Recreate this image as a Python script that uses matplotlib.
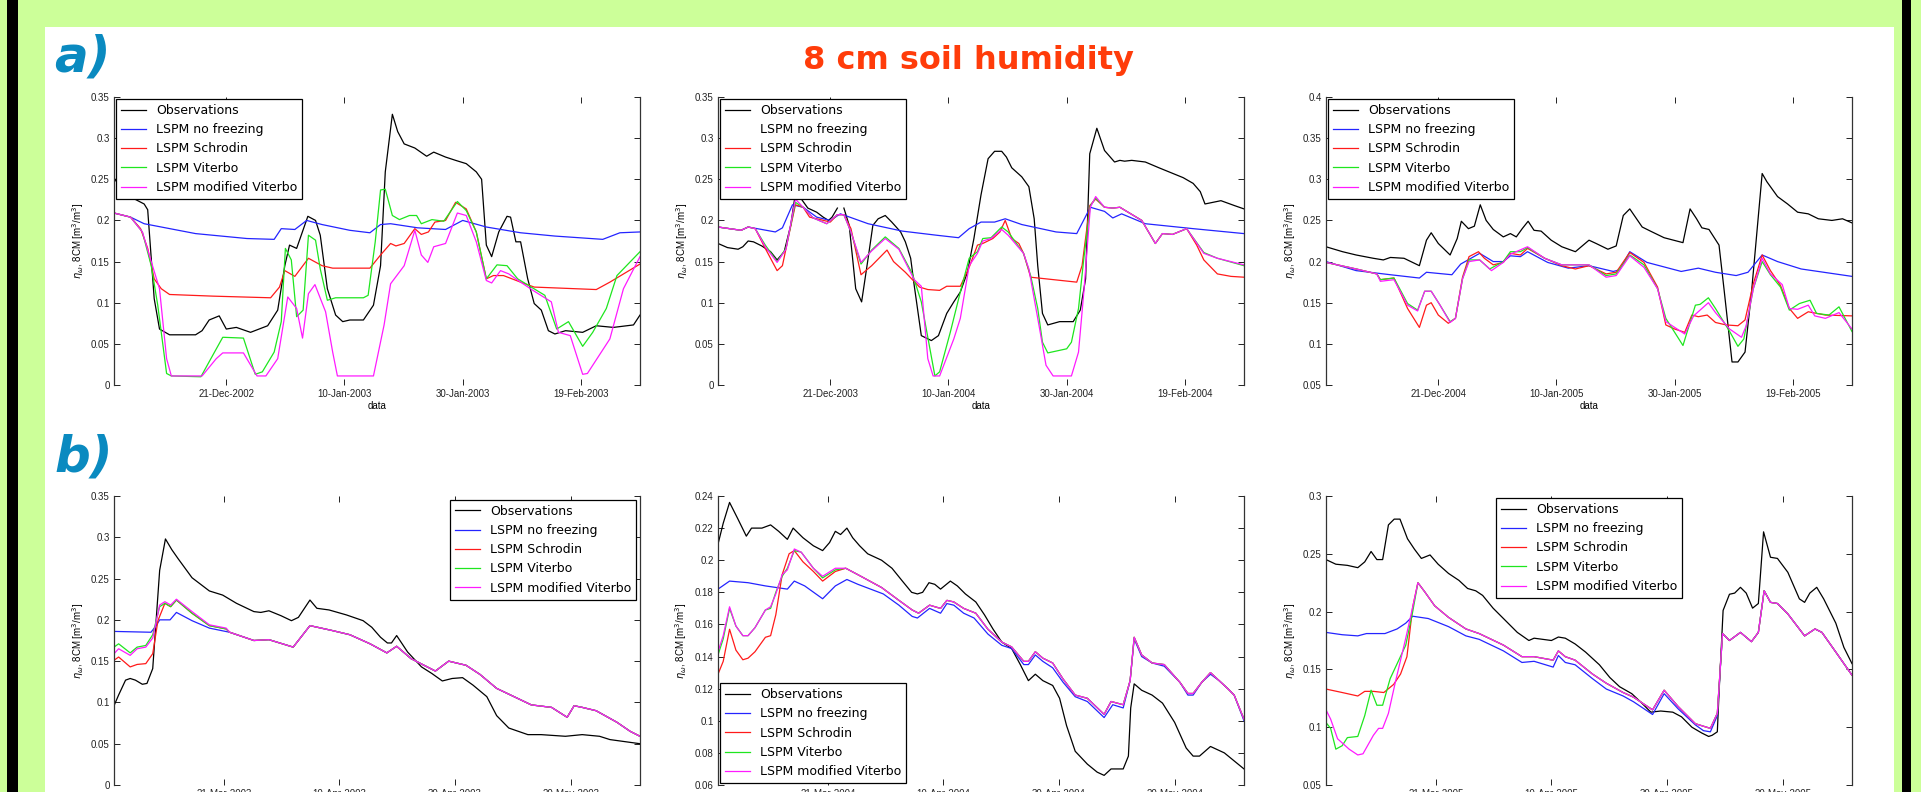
"""8 cm soil humidity: observations vs LSPM runs, winter (a) and spring (b) 2003-2005."""
import datetime as dt

import matplotlib
matplotlib.use("Agg")
import matplotlib.dates as mdates
import matplotlib.pyplot as plt
import numpy as np
from matplotlib.patches import Rectangle
from matplotlib.ticker import FuncFormatter, MultipleLocator

W, H = 1921, 792
nan = np.nan

SERIES = ["Observations", "LSPM no freezing", "LSPM Schrodin", "LSPM Viterbo",
          "LSPM modified Viterbo"]
COLORS = ["black", "#2424ff", "#ff1a1a", "#1ee61e", "#ff1aff"]

# ---- data: (day since panel start, soil moisture) ----
# a1: winter 2002/03, start 2-Dec-2002
A1_OBS = [(0, .252), (1.6, .233), (5.1, .220), (5.7, .213), (6.8, .105), (7.7, .068),
          (9.4, .061), (13.8, .061), (14.9, .066), (16.1, .079), (17.8, .084), (19.0, .068),
          (20.7, .070), (23.1, .064), (26.0, .072), (27.7, .091), (28.9, .145), (29.7, .170),
          (30.9, .166), (32.8, .205), (34.1, .200), (34.9, .182), (36.1, .117), (37.5, .085),
          (38.7, .077), (39.9, .079), (42.2, .079), (43.9, .097), (45.1, .145), (45.9, .259),
          (47.1, .329), (48.0, .308), (49.1, .293), (50.9, .288), (52.9, .278), (54.1, .283),
          (56.1, .277), (57.8, .273), (59.6, .269), (61.3, .259), (62.2, .250), (63.0, .170),
          (63.9, .156), (65.1, .186), (66.5, .205), (67.1, .204), (68.0, .174), (68.8, .174),
          (70.0, .129), (71.1, .099), (72.3, .091), (73.5, .066), (74.6, .062), (76.4, .066),
          (79.3, .064), (81.6, .072), (84.5, .070), (87.9, .073), (89.0, .085)]
A1_NOFR = [(0, .209), (2.8, .204), (5.1, .196), (8.0, .192), (13.8, .184), (22.5, .178),
           (27.1, .177), (28.3, .190), (30.6, .189), (32.6, .200), (35.2, .195), (39.9, .188),
           (43.3, .185), (45.1, .195), (46.8, .196), (51.4, .191), (56.1, .189), (59.0, .200),
           (63.0, .192), (68.8, .185), (74.6, .181), (82.7, .177), (85.6, .185), (89.0, .186)]
A1_SCHR = [(0, .209), (2.8, .204), (4.5, .190), (5.7, .166), (6.8, .129), (8.0, .117),
           (9.4, .110), (16.7, .108), (26.5, .106), (28.0, .119), (28.9, .139), (30.6, .132),
           (32.9, .154), (35.2, .145), (37.0, .142), (43.3, .142), (45.1, .158), (46.8, .172),
           (47.7, .169), (49.1, .172), (50.9, .190), (52.0, .183), (53.2, .186), (54.3, .198),
           (56.1, .200), (57.8, .222), (59.6, .214), (61.3, .186), (63.0, .129), (64.2, .133),
           (65.9, .133), (68.8, .125), (71.1, .119), (74.6, .118), (81.6, .116), (83.9, .125),
           (89.0, .147)]
A1_VIT = [(0, .209), (2.8, .204), (4.8, .186), (6.3, .145), (7.4, .097), (8.9, .014),
          (9.7, .011), (14.7, .010), (16.7, .036), (18.4, .058), (21.9, .057), (23.9, .013),
          (25.1, .016), (27.1, .040), (28.3, .077), (29.0, .166), (30.0, .152), (30.9, .083),
          (32.0, .091), (32.9, .182), (34.1, .176), (34.9, .141), (36.1, .103), (37.5, .106),
          (42.2, .106), (43.0, .109), (44.2, .174), (45.1, .237), (45.9, .238), (47.1, .206),
          (48.3, .201), (50.0, .206), (51.2, .206), (52.0, .196), (53.8, .201), (55.8, .199),
          (58.1, .223), (59.6, .212), (61.3, .186), (63.0, .129), (64.8, .146), (66.5, .145),
          (68.3, .129), (70.6, .119), (72.9, .109), (74.9, .068), (76.9, .077), (79.3, .047),
          (81.0, .064), (83.3, .093), (85.1, .133), (89.0, .162)]
A1_MVIT = [(0, .209), (2.8, .204), (4.8, .186), (6.3, .150), (7.7, .117), (8.9, .032),
           (9.7, .011), (14.9, .011), (17.3, .032), (18.4, .039), (21.9, .039), (24.2, .011),
           (25.7, .011), (27.7, .032), (29.4, .107), (30.9, .093), (31.9, .057), (32.9, .111),
           (34.0, .122), (35.8, .089), (37.0, .040), (37.8, .011), (43.9, .011), (45.7, .073),
           (46.8, .123), (49.1, .145), (50.9, .188), (52.0, .158), (53.1, .149), (54.1, .168),
           (56.1, .172), (58.1, .209), (59.6, .206), (61.3, .174), (63.0, .127), (63.9, .124),
           (65.4, .139), (66.8, .135), (68.8, .125), (71.1, .114), (74.0, .101), (75.2, .064),
           (77.2, .060), (79.3, .013), (80.1, .014), (83.9, .056), (86.2, .117), (89.0, .156)]

# a2: winter 2003/04, start 2-Dec-2003
A2_OBS = [(0, .172), (1.6, .167), (3.4, .165), (4.2, .168), (5.1, .175), (6.0, .174),
          (7.4, .169), (8.9, .162), (10.0, .152), (11.2, .162), (12.3, .194), (13.1, .233),
          (14.1, .226), (15.2, .215), (16.7, .210), (17.8, .204), (18.7, .200), (19.3, .204),
          (20.2, .215), (20.7, nan), (21.3, .215), (22.2, .194), (23.3, .117), (24.3, .101),
          (25.4, .154), (26.2, .194), (27.1, .202), (28.3, .206), (29.4, .198), (30.9, .186),
          (31.7, .174), (32.6, .154), (33.2, .121), (34.4, .060), (36.1, .054), (37.3, .060),
          (38.7, .087), (39.9, .101), (41.0, .113), (42.2, .137), (43.3, .178), (44.5, .231),
          (45.7, .275), (46.8, .284), (48.0, .284), (48.8, .277), (49.7, .264), (51.4, .253),
          (52.6, .241), (53.5, .202), (54.1, .145), (54.9, .087), (55.8, .073), (57.8, .077),
          (60.1, .077), (61.3, .091), (62.2, .129), (62.9, .281), (64.1, .312), (65.4, .285),
          (67.1, .271), (68.0, .273), (68.8, .272), (70.0, .273), (72.3, .271), (74.6, .264),
          (78.7, .252), (80.4, .245), (81.6, .235), (82.4, .220), (85.1, .224), (87.4, .218),
          (89.0, .214)]
A2_NOFR = [(0, .192), (3.9, .188), (5.1, .192), (9.7, .186), (10.9, .191), (12.6, .219),
           (14.4, .216), (16.7, .204), (19.0, .200), (20.7, .208), (21.9, .205), (25.4, .196),
           (31.2, .187), (37.0, .182), (40.7, .179), (42.5, .190), (44.5, .198), (46.8, .198),
           (48.6, .202), (51.4, .195), (57.2, .186), (60.7, .184), (63.0, .216), (65.4, .211),
           (66.8, .203), (68.3, .208), (72.3, .196), (80.4, .190), (89.0, .184)]
A2_SCHR = [(0, .192), (3.9, .188), (5.1, .192), (6.3, .190), (8.0, .166), (10.0, .139),
           (10.9, .145), (12.1, .186), (13.1, .219), (14.4, .216), (15.5, .204), (17.3, .201),
           (19.0, .198), (20.2, .207), (21.3, .207), (22.5, .190), (24.2, .134), (26.0, .145),
           (28.6, .164), (29.7, .150), (31.7, .137), (34.1, .119), (35.5, .116), (37.5, .115),
           (38.7, .120), (41.0, .120), (42.5, .143), (43.9, .170), (44.8, .172), (46.5, .178),
           (47.7, .186), (48.6, .200), (49.7, .178), (50.9, .172), (51.7, .160), (52.9, .131),
           (55.5, .129), (60.7, .125), (61.6, .145), (62.9, .218), (63.9, .226), (65.4, .216),
           (66.8, .215), (68.0, .216), (71.7, .200), (74.0, .172), (75.2, .184), (76.9, .183),
           (79.3, .190), (81.0, .170), (82.2, .152), (84.5, .135), (86.8, .132), (89.0, .131)]
A2_VIT = [(0, .192), (3.9, .188), (5.1, .192), (6.3, .190), (8.0, .170), (10.0, .150),
          (11.5, .166), (13.1, .222), (14.4, .216), (16.1, .203), (18.4, .196), (20.2, .207),
          (21.3, .207), (22.5, .186), (24.2, .147), (26.0, .164), (28.3, .180), (30.6, .166),
          (32.9, .135), (34.4, .101), (36.7, .011), (37.5, .016), (39.3, .064), (41.0, .113),
          (42.5, .154), (43.9, .162), (44.8, .178), (46.2, .179), (48.0, .192), (49.1, .186),
          (50.3, .174), (51.7, .160), (52.9, .133), (54.1, .093), (54.9, .052), (55.8, .039),
          (59.0, .044), (59.8, .052), (61.0, .093), (61.9, .154), (63.0, .218), (63.9, .227),
          (65.4, .216), (66.8, .215), (68.0, .216), (71.7, .200), (74.0, .172), (75.2, .184),
          (76.9, .183), (79.3, .190), (82.2, .161), (84.5, .154), (89.0, .145)]
A2_MVIT = [(0, .192), (3.9, .188), (5.1, .192), (6.3, .190), (8.0, .168), (10.0, .149),
           (11.5, .165), (13.1, .226), (14.4, .216), (16.1, .203), (18.4, .196), (20.2, .207),
           (21.3, .207), (22.5, .186), (24.2, .149), (26.0, .163), (28.3, .178), (30.6, .165),
           (33.2, .128), (34.4, .120), (35.5, .032), (36.4, .011), (37.5, .011), (39.9, .056),
           (41.0, .081), (42.5, .145), (43.9, .160), (44.8, .175), (46.2, .178), (48.0, .189),
           (49.1, .182), (51.7, .160), (52.6, .141), (54.3, .073), (55.5, .024), (56.7, .011),
           (59.8, .011), (61.0, .040), (61.9, .113), (63.0, .216), (63.9, .229), (65.4, .216),
           (66.8, .215), (68.0, .216), (71.7, .200), (74.0, .172), (75.2, .184), (76.9, .183),
           (79.3, .190), (82.2, .160), (84.5, .154), (89.0, .146)]

# a3: winter 2004/05, start 2-Dec-2004
A3_OBS = [(0, .218), (2.8, .212), (5.1, .208), (8.0, .204), (9.7, .202), (10.9, .205),
          (13.2, .204), (15.8, .195), (17.0, .226), (17.8, .235), (19.0, .222), (21.0, .208),
          (22.2, .228), (22.9, .249), (24.1, .240), (25.1, .243), (26.1, .269), (27.1, .250),
          (28.3, .239), (30.0, .230), (31.2, .234), (32.2, .230), (33.2, .240), (34.2, .249),
          (35.2, .238), (36.4, .237), (38.1, .226), (39.9, .218), (42.2, .212), (44.5, .226),
          (45.7, .222), (47.7, .215), (49.1, .219), (50.3, .256), (51.4, .264), (53.5, .242),
          (54.9, .237), (57.2, .229), (60.4, .223), (61.6, .264), (62.7, .252), (63.6, .241),
          (64.8, .239), (66.5, .220), (67.4, .163), (68.7, .078), (69.7, .078), (70.9, .090),
          (72.0, .163), (73.8, .307), (74.6, .297), (76.4, .279), (78.1, .270), (79.8, .260),
          (81.6, .258), (83.3, .252), (85.6, .250), (87.4, .252), (89.0, .247)]
A3_NOFR = [(0, .200), (5.1, .189), (10.9, .184), (15.8, .180), (17.0, .187), (21.3, .184),
           (22.8, .197), (26.0, .210), (28.3, .200), (30.0, .200), (31.2, .207), (32.9, .206),
           (34.1, .212), (37.5, .199), (41.0, .192), (44.5, .195), (48.6, .188), (49.7, .190),
           (51.4, .212), (54.3, .199), (60.1, .188), (63.0, .192), (65.9, .187), (69.4, .183),
           (71.4, .187), (73.8, .208), (76.4, .200), (80.4, .191), (89.0, .182)]
A3_SCHR = [(0, .199), (5.1, .191), (8.6, .185), (9.2, .178), (11.5, .180), (13.8, .143),
           (15.8, .120), (17.0, .147), (17.8, .150), (19.0, .135), (20.7, .125), (21.9, .131),
           (23.1, .181), (24.2, .206), (25.8, .212), (26.8, .204), (28.3, .196), (30.0, .199),
           (31.2, .210), (32.9, .208), (34.1, .216), (37.0, .204), (39.9, .195), (42.2, .191),
           (44.5, .195), (47.4, .185), (49.1, .187), (51.4, .211), (53.8, .199), (56.1, .169),
           (57.5, .123), (59.0, .118), (60.7, .114), (61.9, .135), (63.0, .133), (64.5, .135),
           (65.9, .126), (67.7, .123), (69.7, .122), (70.9, .129), (72.3, .173), (73.8, .208),
           (75.2, .189), (76.9, .171), (78.4, .143), (79.8, .131), (81.6, .139), (84.5, .135),
           (89.0, .134)]
A3_VIT = [(0, .199), (5.1, .191), (8.6, .185), (9.2, .178), (11.5, .180), (13.8, .149),
          (15.5, .141), (16.7, .164), (17.8, .164), (19.3, .147), (21.0, .127), (21.9, .131),
          (23.1, .179), (24.2, .202), (26.0, .202), (27.7, .191), (30.0, .200), (31.2, .212),
          (32.9, .212), (34.1, .217), (37.0, .204), (39.9, .196), (44.5, .196), (47.4, .183),
          (49.1, .185), (51.4, .208), (53.8, .196), (56.1, .167), (57.5, .131), (60.4, .098),
          (62.5, .147), (63.3, .148), (64.7, .156), (65.9, .143), (68.3, .115), (69.7, .097),
          (70.7, .106), (72.3, .167), (73.8, .200), (75.2, .184), (76.9, .169), (78.4, .141),
          (80.1, .149), (81.9, .153), (83.0, .137), (85.1, .135), (86.8, .145), (89.0, .115)]
A3_MVIT = [(0, .199), (5.1, .191), (8.6, .185), (9.2, .176), (11.5, .178), (13.8, .147),
           (15.5, .140), (16.7, .164), (17.8, .164), (19.3, .147), (21.0, .126), (21.9, .131),
           (23.1, .179), (24.2, .200), (26.0, .202), (28.0, .189), (30.0, .199), (31.2, .209),
           (34.1, .218), (37.0, .204), (39.9, .196), (44.5, .196), (47.4, .181), (49.1, .183),
           (51.4, .207), (53.8, .193), (56.1, .167), (57.5, .127), (60.7, .112), (62.2, .134),
           (64.7, .150), (65.9, .138), (68.3, .118), (70.3, .108), (71.1, .122), (72.3, .167),
           (73.8, .204), (75.2, .185), (77.2, .172), (78.4, .143), (79.8, .142), (81.6, .147),
           (82.7, .134), (84.5, .131), (86.8, .138), (89.0, .118)]

# b1: spring 2003, start 2-Mar-2003
B1_OBS = [(0, .096), (0.8, .109), (2.0, .127), (2.8, .129), (3.7, .127), (4.9, .122),
          (5.7, .123), (6.7, .141), (7.9, .260), (8.9, .298), (10.0, .285), (11.1, .274),
          (13.5, .251), (16.5, .235), (18.8, .230), (21.2, .220), (24.2, .210), (25.4, .209),
          (26.8, .211), (28.9, .205), (30.7, .199), (31.9, .203), (33.9, .224), (35.1, .214),
          (37.2, .212), (40.2, .206), (43.1, .199), (44.6, .191), (46.1, .179), (47.3, .172),
          (48.0, .172), (48.9, .181), (50.8, .161), (53.2, .143), (55.0, .135), (56.8, .126),
          (58.5, .129), (60.3, .130), (62.1, .121), (64.5, .107), (66.2, .084), (68.3, .069),
          (71.6, .061), (73.9, .061), (78.1, .059), (81.0, .061), (84.0, .059), (85.8, .055),
          (91.0, .050)]
B1_MODEL_TAIL = [(20.0, .185), (24.2, .175), (26.8, .176), (31.0, .167), (33.9, .193),
                 (37.8, .187), (40.8, .182), (44.3, .171), (47.2, .160), (48.9, .168),
                 (51.4, .153), (55.6, .138), (57.9, .150), (60.9, .145), (63.3, .134),
                 (66.2, .117), (69.2, .107), (72.2, .097), (75.7, .094), (78.4, .082),
                 (79.6, .096), (81.0, .094), (83.4, .090), (87.0, .076), (89.3, .065),
                 (91.0, .059)]
B1_NOFR_HEAD = [(0, .186), (6.4, .185), (7.3, .193), (7.9, .200), (9.7, .200), (10.8, .209),
                (13.5, .199), (16.5, .190)]
B1_SCHR_HEAD = [(0, .151), (0.8, .155), (2.8, .143), (4.0, .146), (5.5, .147), (6.7, .159),
                (7.6, .199), (8.8, .220), (9.8, .216), (10.8, .224), (13.5, .208), (16.5, .193),
                (19.4, .189)]
B1_VIT_HEAD = [(0, .167), (0.8, .171), (2.8, .160), (4.0, .167), (5.5, .169), (6.7, .182),
               (7.9, .216), (8.8, .220), (9.8, .216), (10.8, .224), (13.5, .208), (16.5, .193),
               (19.4, .189)]
B1_MVIT_HEAD = [(0, .159), (0.8, .165), (2.8, .157), (4.0, .165), (5.5, .167), (6.7, .178),
                (7.9, .218), (8.8, .222), (9.8, .218), (10.8, .225), (13.5, .210), (16.5, .194),
                (19.4, .190)]

# b2: spring 2004, start 2-Mar-2004
B2_OBS = [(0, .210), (0.9, .223), (2.0, .236), (3.4, .226), (4.9, .215), (5.8, .220),
          (7.6, .220), (9.1, .222), (10.5, .218), (12.0, .213), (13.0, .220), (14.7, .214),
          (16.5, .209), (18.1, .206), (19.3, .211), (20.3, .218), (21.2, .216), (22.3, .220),
          (23.3, .214), (24.5, .209), (25.9, .204), (28.3, .200), (30.1, .195), (31.9, .187),
          (33.5, .180), (34.5, .179), (35.4, .180), (36.5, .186), (37.5, .185), (38.5, .182),
          (40.2, .187), (41.4, .184), (42.8, .179), (44.6, .174), (46.1, .166), (47.6, .157),
          (49.1, .149), (50.8, .145), (52.3, .135), (53.7, .125), (54.9, .129), (56.2, .125),
          (57.9, .122), (59.1, .114), (60.3, .097), (61.8, .081), (63.9, .073), (65.6, .068),
          (66.8, .066), (68.0, .070), (70.1, .070), (71.0, .078), (71.4, .108), (72.0, .123),
          (73.3, .119), (75.1, .116), (76.9, .111), (79.0, .099), (81.0, .083), (82.2, .078),
          (83.3, .078), (85.2, .084), (87.6, .080), (89.3, .075), (91.0, .070)]
B2_NOFR = [(0, .182), (2.0, .187), (5.2, .186), (8.2, .184), (12.0, .182), (13.2, .187),
           (15.0, .184), (18.1, .176), (20.3, .184), (22.3, .188), (24.2, .185), (28.6, .179),
           (31.3, .172), (33.6, .165), (34.5, .164), (36.6, .170), (38.5, .167), (39.6, .173),
           (40.8, .172), (42.5, .167), (44.3, .164), (46.7, .154), (49.1, .147), (50.8, .145),
           (52.9, .135), (53.7, .135), (54.9, .141), (56.2, .137), (57.9, .133), (59.7, .124),
           (61.8, .115), (63.9, .112), (66.8, .102), (68.3, .110), (70.1, .108), (71.3, .125),
           (72.0, .151), (73.3, .140), (75.1, .136), (77.2, .134), (79.9, .124), (81.3, .116),
           (82.2, .116), (83.7, .124), (85.2, .129), (86.7, .125), (88.2, .120), (89.3, .116),
           (91.0, .100)]
B2_MODEL_TAIL = [(22.1, .195), (24.2, .191), (28.3, .183), (31.3, .175), (33.6, .169),
                 (34.7, .167), (36.6, .172), (38.5, .170), (39.6, .175), (40.8, .174),
                 (42.5, .170), (44.6, .167), (46.7, .157), (49.1, .149), (50.8, .146),
                 (52.9, .137), (53.7, .137), (54.9, .143), (56.2, .139), (57.9, .136),
                 (59.7, .126), (61.8, .116), (63.9, .114), (66.8, .104), (68.0, .112),
                 (70.1, .110), (71.3, .125), (72.0, .152), (73.3, .141), (75.1, .136),
                 (77.2, .135), (79.9, .124), (81.3, .117), (82.2, .117), (83.7, .124),
                 (85.2, .130), (86.7, .125), (88.2, .120), (89.3, .116), (91.0, .101)]
B2_SCHR_HEAD = [(0, .129), (0.9, .137), (2.0, .157), (3.1, .144), (4.3, .138), (5.2, .139),
                (6.4, .143), (8.2, .152), (9.1, .153), (10.0, .166), (11.1, .191), (12.3, .204),
                (13.2, .206), (14.7, .199), (16.5, .193), (18.1, .187), (20.3, .193)]
B2_VIT_HEAD = [(0, .141), (0.9, .151), (2.0, .170), (3.1, .159), (4.3, .153), (5.2, .153),
               (6.4, .158), (8.2, .169), (9.1, .170), (10.0, .180), (11.1, .190), (12.0, .195),
               (13.2, .206), (14.4, .205), (16.5, .195), (18.1, .189), (20.3, .194)]
B2_MVIT_HEAD = [(0, .143), (0.9, .153), (2.0, .171), (3.1, .159), (4.3, .153), (5.2, .153),
                (6.4, .158), (8.2, .169), (9.1, .171), (10.0, .179), (11.1, .191), (12.0, .194),
                (13.2, .207), (14.4, .205), (16.5, .195), (18.1, .190), (20.3, .195)]

# b3: spring 2005, start 2-Mar-2005
B3_OBS = [(0, .245), (1.7, .241), (3.7, .240), (5.5, .238), (6.7, .243), (7.8, .252),
          (8.8, .245), (9.8, .245), (10.8, .275), (11.8, .280), (12.8, .280), (14.1, .263),
          (15.3, .254), (16.5, .246), (18.0, .249), (19.4, .241), (21.2, .233), (23.0, .227),
          (24.5, .220), (25.9, .218), (27.1, .214), (28.9, .203), (31.3, .191), (33.1, .182),
          (35.1, .175), (36.0, .177), (39.0, .175), (40.2, .178), (41.4, .177), (43.1, .172),
          (44.9, .165), (47.3, .154), (49.1, .143), (50.8, .135), (52.9, .129), (54.4, .122),
          (56.2, .113), (57.9, .114), (60.0, .113), (61.5, .109), (63.3, .100), (65.0, .095),
          (66.2, .092), (66.8, .093), (67.7, .096), (68.0, .130), (68.7, .201), (69.8, .215),
          (70.7, .216), (71.7, .221), (72.7, .216), (73.8, .203), (74.8, .207), (75.7, .269),
          (76.9, .247), (78.1, .246), (79.9, .234), (81.9, .211), (82.8, .208), (83.7, .216),
          (84.9, .221), (86.1, .211), (88.2, .190), (89.6, .169), (91.0, .155)]
B3_MODEL_TAIL = [(68.6, .181), (69.8, .175), (71.7, .182), (73.6, .174), (74.8, .182),
                 (75.8, .218), (76.9, .208), (78.1, .207), (79.9, .198), (82.8, .179),
                 (84.6, .185), (85.8, .182), (88.2, .165), (91.0, .145)]
B3_NOFR_HEAD = [(0, .182), (2.8, .180), (5.5, .179), (7.0, .181), (10.2, .181), (12.3, .185),
                (13.8, .190), (15.0, .196), (17.7, .194), (21.2, .187), (24.2, .179),
                (26.5, .176), (30.7, .166), (33.9, .156), (36.0, .157), (39.3, .152),
                (40.2, .162), (41.4, .156), (43.1, .154), (46.1, .142), (48.5, .133),
                (51.4, .127), (53.2, .122), (56.5, .111), (58.5, .129), (60.9, .116),
                (63.9, .102), (65.3, .097), (66.5, .096), (67.7, .110)]
B3_FROZEN_MID = [(15.9, .225), (17.1, .217), (18.8, .205), (21.2, .195), (24.2, .185),
                 (26.5, .181), (30.7, .171), (33.9, .161), (36.0, .161), (39.3, .158),
                 (40.2, .166), (41.4, .161), (43.1, .158), (46.1, .146), (48.5, .138),
                 (51.4, .130), (53.2, .126), (56.5, .115), (58.5, .132), (60.9, .118),
                 (63.9, .103), (66.5, .099), (67.7, .112)]
B3_SCHR_HEAD = [(0, .133), (2.8, .130), (5.5, .127), (6.7, .131), (8.2, .131), (10.0, .130),
                (11.7, .137), (12.9, .146), (14.0, .161), (15.0, .204)]
B3_VIT_HEAD = [(0, .104), (0.8, .099), (1.7, .081), (2.8, .084), (3.7, .091), (5.5, .092),
               (6.7, .110), (7.8, .132), (8.8, .119), (9.8, .119), (11.1, .142), (13.8, .171),
               (15.0, .200)]
B3_MVIT_HEAD = [(0, .115), (0.8, .107), (2.0, .090), (4.0, .081), (5.5, .076), (6.4, .077),
                (8.2, .093), (9.1, .099), (9.8, .099), (10.8, .112), (12.0, .139), (13.8, .177),
                (15.0, .204)]

WINTER_TICKS = [(12, 21, 0), (1, 10, 1), (1, 30, 1), (2, 19, 1)]   # (month, day, year offset)
SPRING_TICKS = [(3, 21, 0), (4, 10, 0), (4, 30, 0), (5, 20, 0)]


def px_box(x0, y0, x1, y1):
    """Pixel box (top-left origin) -> figure fraction [left, bottom, w, h]."""
    return [x0 / W, 1 - y1 / H, (x1 - x0) / W, (y1 - y0) / H]


def yfmt(v, _):
    return f"{round(v, 4):g}"


def draw(ax, start, span, series, ylim, ystep, ticks, xlabel, legend_kw, blank_handle=None):
    t0 = mdates.date2num(start)
    for name, color, pts in zip(SERIES, COLORS, series):
        d = np.array([p[0] for p in pts], dtype=float)
        v = np.array([p[1] for p in pts], dtype=float)
        ax.plot(t0 + d, v, color=color, lw=0.9, label=name)
    ax.set_xlim(t0, t0 + span)
    ax.set_ylim(*ylim)
    ax.yaxis.set_major_locator(MultipleLocator(ystep))
    ax.yaxis.set_major_formatter(FuncFormatter(yfmt))
    ax.set_xticks([mdates.date2num(dt.date(start.year + yo, m, dd)) for m, dd, yo in ticks])
    ax.xaxis.set_major_formatter(mdates.DateFormatter("%d-%b-%Y"))
    ax.tick_params(direction="in", top=True, right=True, length=4, width=0.7,
                   labelsize=7, pad=3, colors="#222222")
    for lab in ax.get_xticklabels() + ax.get_yticklabels():
        lab.set_family("Liberation Sans")
    for side in ("top", "bottom"):
        ax.spines[side].set_visible(False)
    for side in ("left", "right"):
        ax.spines[side].set_color("#333333")
        ax.spines[side].set_linewidth(0.9)
    ax.set_ylabel(r"$\eta_\omega$, 8CM [m$^3$/m$^3$]", fontsize=7, family="Liberation Sans",
                  labelpad=4)
    if xlabel:
        ax.set_xlabel("data", fontsize=7, family="Liberation Sans", labelpad=1)
    opts = dict(fontsize=9, frameon=True, fancybox=False, edgecolor="black", framealpha=1,
                handlelength=2.0, handletextpad=0.8, labelspacing=0.5, borderpad=0.4,
                borderaxespad=0.15)
    opts.update(legend_kw)
    leg = ax.legend(**opts)
    leg.get_frame().set_linewidth(0.9)
    if blank_handle is not None:
        leg.legend_handles[blank_handle].set_visible(False)


fig = plt.figure(figsize=(W / 100, H / 100), dpi=100, facecolor="#ccff99")
fig.add_artist(Rectangle((45 / W, 0), (1894 - 45) / W, 1 - 27 / H, transform=fig.transFigure,
                         facecolor="white", edgecolor="none", zorder=-10))
for x0, x1 in ((7, 18), (1902, 1911)):
    fig.add_artist(Rectangle((x0 / W, 0), (x1 - x0) / W, 1, transform=fig.transFigure,
                             facecolor="black", edgecolor="none", zorder=-9))

fig.text(968 / W, 1 - 60 / H, "8 cm soil humidity", ha="center", va="center",
         fontsize=23, fontweight="bold", color="#ff3c0a")
fig.text(82 / W, 1 - 58 / H, "a)", ha="center", va="center", fontsize=36,
         fontweight="bold", fontstyle="italic", color="#0a8ac0")
fig.text(84 / W, 1 - 457 / H, "b)", ha="center", va="center", fontsize=36,
         fontweight="bold", fontstyle="italic", color="#0a8ac0")

cols = [(114, 640), (718, 1244), (1326, 1852)]
top_row, bot_row = (97, 385), (496, 785)

winter = [
    (dt.date(2002, 12, 2), [A1_OBS, A1_NOFR, A1_SCHR, A1_VIT, A1_MVIT], (0, 0.35), 0.05, None),
    (dt.date(2003, 12, 2), [A2_OBS, A2_NOFR, A2_SCHR, A2_VIT, A2_MVIT], (0, 0.35), 0.05, 1),
    (dt.date(2004, 12, 2), [A3_OBS, A3_NOFR, A3_SCHR, A3_VIT, A3_MVIT], (0.05, 0.4), 0.05, None),
]
for (x0, x1), (start, ser, ylim, step, blank) in zip(cols, winter):
    ax = fig.add_axes(px_box(x0, top_row[0], x1, top_row[1]))
    ax.set_facecolor("none")
    draw(ax, start, 89, ser, ylim, step, WINTER_TICKS, True,
         dict(loc="upper left"), blank_handle=blank)

spring = [
    (dt.date(2003, 3, 2),
     [B1_OBS, B1_NOFR_HEAD + B1_MODEL_TAIL, B1_SCHR_HEAD + B1_MODEL_TAIL,
      B1_VIT_HEAD + B1_MODEL_TAIL, B1_MVIT_HEAD + B1_MODEL_TAIL],
     (0, 0.35), 0.05, dict(loc="upper right", borderaxespad=0.3)),
    (dt.date(2004, 3, 2),
     [B2_OBS, B2_NOFR, B2_SCHR_HEAD + B2_MODEL_TAIL, B2_VIT_HEAD + B2_MODEL_TAIL,
      B2_MVIT_HEAD + B2_MODEL_TAIL],
     (0.06, 0.24), 0.02, dict(loc="lower left")),
    (dt.date(2005, 3, 2),
     [B3_OBS, B3_NOFR_HEAD + B3_MODEL_TAIL, B3_SCHR_HEAD + B3_FROZEN_MID + B3_MODEL_TAIL,
      B3_VIT_HEAD + B3_FROZEN_MID + B3_MODEL_TAIL,
      B3_MVIT_HEAD + B3_FROZEN_MID + B3_MODEL_TAIL],
     (0.05, 0.3), 0.05, dict(loc="upper center")),
]
for (x0, x1), (start, ser, ylim, step, lkw) in zip(cols, spring):
    ax = fig.add_axes(px_box(x0, bot_row[0], x1, bot_row[1]))
    ax.set_facecolor("none")
    draw(ax, start, 91, ser, ylim, step, SPRING_TICKS, False, lkw)

fig.savefig("out.png", dpi=100, facecolor=fig.get_facecolor())
